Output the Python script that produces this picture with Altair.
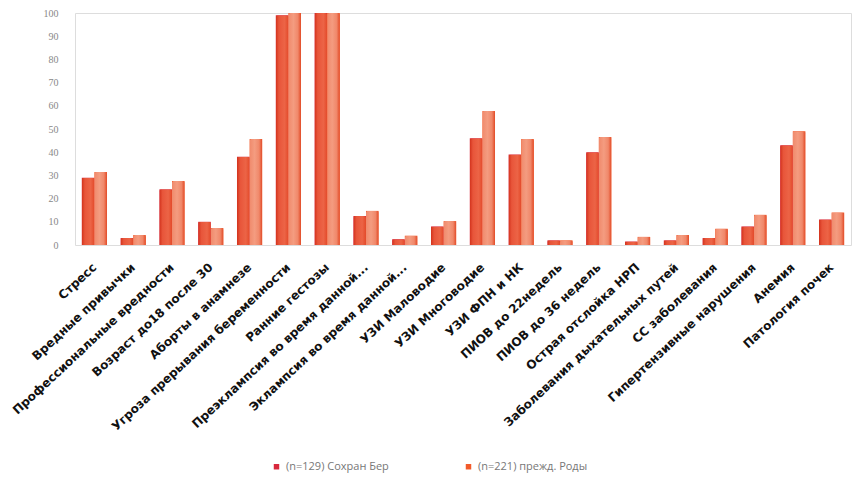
import altair as alt
import pandas as pd

categories = [
    "Стресс", "Вредные привычки", "Профессиональные вредности",
    "Возраст до18 после 30", "Аборты в анамнезе",
    "Угроза прерывания беременности", "Ранние гестозы",
    "Преэклампсия  во время данной...", "Эклампсия  во время данной...",
    "УЗИ Маловодие", "УЗИ Многоводие", "УЗИ ФПН и НК", "ПИОВ до 22недель",
    "ПИОВ до 36 недель", "Острая отслойка НРП",
    "Заболевания дыхательных путей", "СС заболевания",
    "Гипертензивные нарушения", "Анемия", "Патология почек",
]
series_names = ["(n=129) Сохран Бер", "(n=221)  прежд. Роды"]
values_s1 = [29, 3, 24, 10, 38, 99, 100, 12.5, 2.5, 8, 46, 39, 2, 40, 1.5, 2, 3, 8, 43, 11]
values_s2 = [31.5, 4.3, 27.6, 7.3, 45.7, 100, 100, 14.7, 4, 10.3, 57.8, 45.7, 2, 46.6, 3.5, 4.3, 7, 13, 49, 14]
legend_colors = ["#d8283c", "#f25a2a"]

rows = []
for c, a, b in zip(categories, values_s1, values_s2):
    rows.append({"cat": c, "series": series_names[0], "val": a})
    rows.append({"cat": c, "series": series_names[1], "val": b})
df = pd.DataFrame(rows)

x = alt.X("cat:N", sort=categories, title=None,
          scale=alt.Scale(paddingInner=0.35, paddingOuter=0.175),
          axis=alt.Axis(labelAngle=-43, labelAlign="right", labelBaseline="middle",
                        labelFont="DejaVu Sans", labelFontWeight="bold", labelFontSize=12,
                        labelColor="#111", labelPadding=20, labelLimit=500,
                        domain=False, ticks=False))
y = alt.Y("val:Q", title=None,
          scale=alt.Scale(domain=[0, 100]),
          axis=alt.Axis(values=list(range(0, 101, 10)), grid=False, domain=False, ticks=False,
                        labelColor="#888", labelFontSize=10, labelFont="Liberation Serif",
                        labelPadding=17))
xoff = alt.XOffset("series:N", sort=series_names, scale=alt.Scale(paddingInner=0.0))

base = alt.Chart(df)

legend_layer = base.mark_bar().encode(
    x=x, y=y, xOffset=xoff,
    color=alt.Color("series:N", sort=series_names,
                    scale=alt.Scale(domain=series_names, range=legend_colors),
                    legend=alt.Legend(title=None, orient="none", direction="horizontal",
                                      legendX=196, legendY=448, symbolType="square",
                                      symbolSize=30, labelFontSize=11, labelColor="#777",
                                      labelFont="Open Sans", columnPadding=74, symbolOpacity=1,
                                      labelOffset=4)),
)

grad1 = alt.Gradient(gradient="linear", x1=0, x2=1, y1=0, y2=0, stops=[
    alt.GradientStop(color="#d2321c", offset=0),
    alt.GradientStop(color="#e8553a", offset=0.25),
    alt.GradientStop(color="#ec6446", offset=0.7),
    alt.GradientStop(color="#e34a2a", offset=1),
])
grad2 = alt.Gradient(gradient="linear", x1=0, x2=1, y1=0, y2=0, stops=[
    alt.GradientStop(color="#f08a6c", offset=0),
    alt.GradientStop(color="#f49c80", offset=0.4),
    alt.GradientStop(color="#f0886a", offset=0.75),
    alt.GradientStop(color="#e24a26", offset=1),
])

s1_layer = base.transform_filter(alt.datum.series == series_names[0]).mark_bar(
    fill=grad1, cornerRadiusTopLeft=2, cornerRadiusTopRight=2
).encode(x=x, y=y, xOffset=xoff)
s2_layer = base.transform_filter(alt.datum.series == series_names[1]).mark_bar(
    fill=grad2, cornerRadiusTopLeft=2, cornerRadiusTopRight=2
).encode(x=x, y=y, xOffset=xoff)

chart = alt.layer(legend_layer, s1_layer, s2_layer).properties(
    width=776, height=232,
    autosize=alt.AutoSizeParams(type="none"),
    padding={"left": 75, "top": 13, "right": 3, "bottom": 233},
).configure_view(stroke=None).configure(background="white")

chart.save("out.html", embed_options={"renderer": "svg", "actions": False})
